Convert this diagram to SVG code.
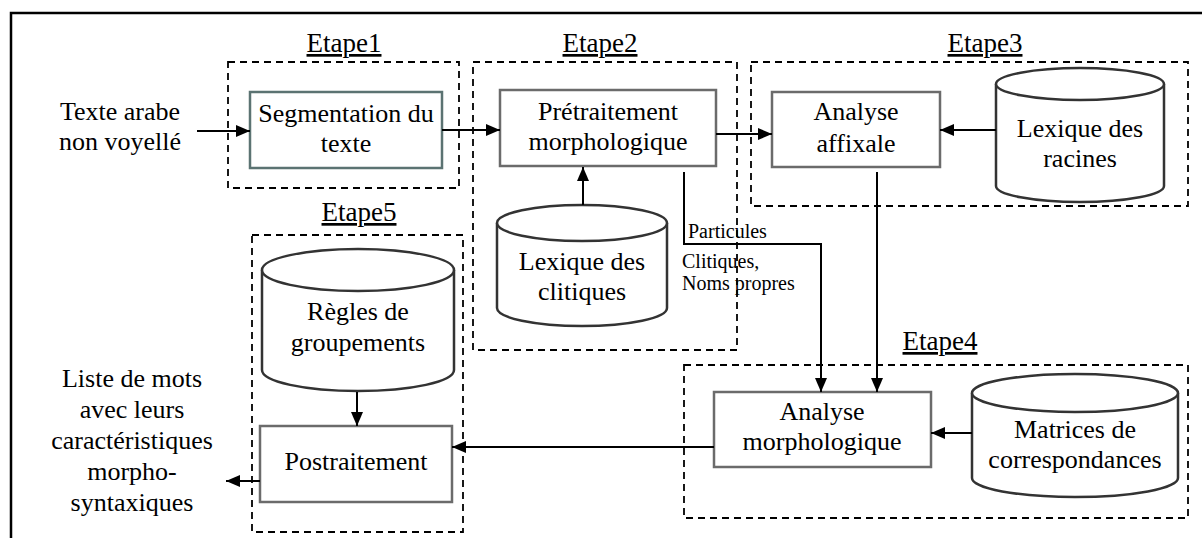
<svg xmlns="http://www.w3.org/2000/svg" width="1202" height="538" viewBox="0 0 1202 538">
<style>
text{font-family:"Liberation Serif","Times New Roman",serif;fill:#000;text-anchor:middle}
.t{font-size:26px}
.lab{font-size:27px;text-decoration:underline}
.sm{font-size:20px;text-anchor:start}
.stage{fill:none;stroke:#000;stroke-width:1.8;stroke-dasharray:7 5}
.box{fill:#fff;stroke:#6b6b6b;stroke-width:2.5}
.cyl{fill:#fff;stroke:#333;stroke-width:2.5}
.con{fill:none;stroke:#000;stroke-width:2}
</style>
<defs>
<marker id="ah" viewBox="0 0 14 12" refX="14" refY="6" markerWidth="14" markerHeight="12" markerUnits="userSpaceOnUse" orient="auto">
<path d="M0,0 L14,6 L0,12 z" fill="#000"/>
</marker>
</defs>
<rect width="1202" height="538" fill="#fff"/>
<g id="frame"><path d="M11,538 V13 H1202" fill="none" stroke="#000" stroke-width="2.5"/></g>

<g id="etape1"><rect class="stage" x="228" y="62" width="231" height="126"/><text class="lab" x="344" y="52">Etape1</text></g>
<g id="etape2"><rect class="stage" x="473" y="62" width="264" height="288"/><text class="lab" x="600" y="52">Etape2</text></g>
<g id="etape3"><rect class="stage" x="751" y="62" width="437" height="144"/><text class="lab" x="985" y="52">Etape3</text></g>
<g id="etape4"><rect class="stage" x="684" y="365" width="504" height="153"/><text class="lab" x="940" y="350">Etape4</text></g>
<g id="etape5"><rect class="stage" x="252" y="235" width="211" height="297"/><text class="lab" x="359" y="221">Etape5</text></g>

<g id="input"><text class="t" x="120" y="120">Texte arabe</text><text class="t" x="120" y="150">non voyellé</text></g>
<g id="output"><text class="t" x="132" y="387">Liste de mots</text><text class="t" x="132" y="418">avec leurs</text><text class="t" x="132" y="449">caractéristiques</text><text class="t" x="132" y="480">morpho-</text><text class="t" x="132" y="511">syntaxiques</text></g>

<g id="segmentation"><rect x="250" y="92" width="192" height="76" fill="#fff" stroke="#5b7372" stroke-width="2.5"/><text class="t" x="346" y="122">Segmentation du</text><text class="t" x="346" y="152">texte</text></g>
<g id="pretraitement"><rect class="box" x="500" y="90" width="216" height="76"/><text class="t" x="608" y="120">Prétraitement</text><text class="t" x="608" y="150">morphologique</text></g>
<g id="affixale"><rect class="box" x="772" y="92" width="168" height="75"/><text class="t" x="856" y="120">Analyse</text><text class="t" x="856" y="152">affixale</text></g>
<g id="racines"><path class="cyl" d="M996,84 A84,16 0 0 1 1164,84 V186 A84,16 0 0 1 996,186 Z"/><path class="cyl" fill="none" d="M996,84 A84,16 0 0 0 1164,84"/><text class="t" x="1080" y="137">Lexique des</text><text class="t" x="1080" y="167">racines</text></g>
<g id="clitiques"><path class="cyl" d="M497,223 A85,18 0 0 1 667,223 V308 A85,18 0 0 1 497,308 Z"/><path class="cyl" fill="none" d="M497,223 A85,18 0 0 0 667,223"/><text class="t" x="582" y="270">Lexique des</text><text class="t" x="582" y="300">clitiques</text></g>
<g id="regles"><path class="cyl" d="M262,270 A96,21 0 0 1 454,270 V370 A96,21 0 0 1 262,370 Z"/><path class="cyl" fill="none" d="M262,270 A96,21 0 0 0 454,270"/><text class="t" x="358" y="320">Règles de</text><text class="t" x="358" y="351">groupements</text></g>
<g id="postraitement"><rect class="box" x="260" y="426" width="192" height="76"/><text class="t" x="356" y="470">Postraitement</text></g>
<g id="morphologique"><rect class="box" x="714" y="392" width="217" height="75"/><text class="t" x="822" y="420">Analyse</text><text class="t" x="822" y="450">morphologique</text></g>
<g id="matrices"><path class="cyl" d="M972,393 A103,19 0 0 1 1178,393 V478 A103,19 0 0 1 972,478 Z"/><path class="cyl" fill="none" d="M972,393 A103,19 0 0 0 1178,393"/><text class="t" x="1075" y="438">Matrices de</text><text class="t" x="1075" y="468">correspondances</text></g>

<g id="connectors">
<line class="con" x1="197" y1="131" x2="250" y2="131" marker-end="url(#ah)"/>
<line class="con" x1="442" y1="130" x2="500" y2="130" marker-end="url(#ah)"/>
<line class="con" x1="716" y1="134" x2="772" y2="134" marker-end="url(#ah)"/>
<line class="con" x1="996" y1="130" x2="940" y2="130" marker-end="url(#ah)"/>
<line class="con" x1="583" y1="205" x2="583" y2="167" marker-end="url(#ah)"/>
<polyline class="con" points="684,172 684,244 821,244 821,392" marker-end="url(#ah)"/>
<line class="con" x1="877" y1="172" x2="877" y2="392" marker-end="url(#ah)"/>
<line class="con" x1="972" y1="433" x2="931" y2="433" marker-end="url(#ah)"/>
<line class="con" x1="714" y1="447" x2="452" y2="447" marker-end="url(#ah)"/>
<line class="con" x1="357" y1="392" x2="357" y2="426" marker-end="url(#ah)"/>
<line class="con" x1="260" y1="481" x2="226" y2="481" marker-end="url(#ah)"/>
<text class="sm" x="688" y="238">Particules</text>
<text class="sm" x="682" y="268">Clitiques,</text>
<text class="sm" x="682" y="290">Noms propres</text>
</g>
</svg>
